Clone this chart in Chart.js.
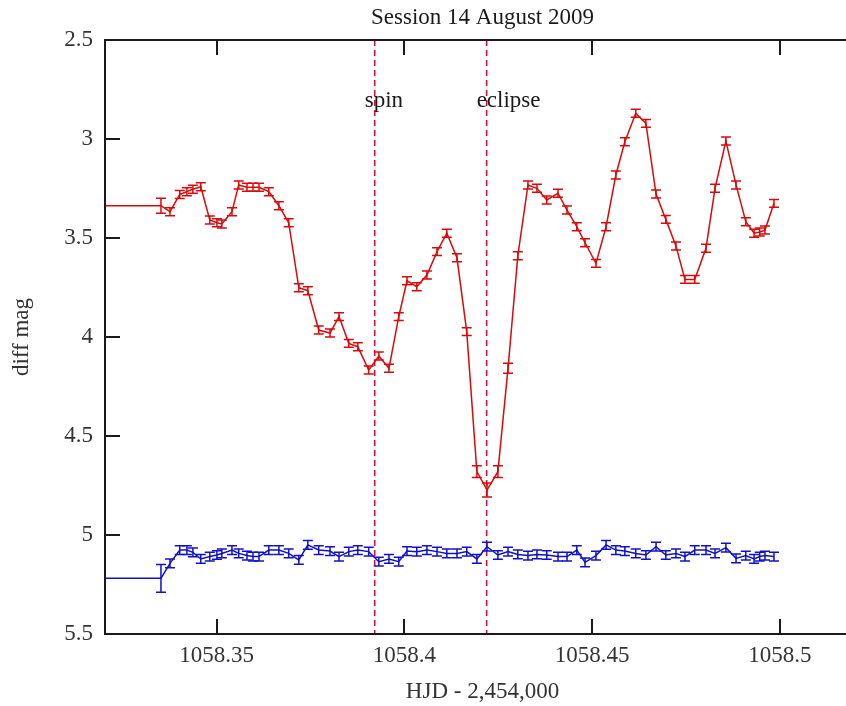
<!DOCTYPE html>
<html>
<head>
<meta charset="utf-8">
<script src="https://cdn.jsdelivr.net/npm/chart.js@4.4.1/dist/chart.umd.min.js"></script>
<style>
  html, body { margin: 0; padding: 0; background: #fff; overflow: hidden; }
  #wrap { width: 860px; height: 706px; }
</style>
</head>
<body>
<div id="wrap"><canvas id="lightCurve" width="860" height="706"></canvas></div>
<script>
// HJD - 2,454,000 for each frame (first entry is the lead-in before the plotted range)
const hjd = [1058.3000, 1058.3352, 1058.3376, 1058.3402, 1058.3421, 1058.3437, 1058.3458, 1058.3482,
  1058.3501, 1058.3514, 1058.3541, 1058.3559, 1058.3581, 1058.3597, 1058.3613, 1058.3639, 1058.3666,
  1058.3692, 1058.3719, 1058.3743, 1058.3772, 1058.3802, 1058.3826, 1058.3852, 1058.3876, 1058.3905,
  1058.3932, 1058.3959, 1058.3985, 1058.4007, 1058.4033, 1058.4060, 1058.4087, 1058.4113, 1058.4140,
  1058.4166, 1058.4193, 1058.4220, 1058.4249, 1058.4276, 1058.4302, 1058.4329, 1058.4353, 1058.4379,
  1058.4409, 1058.4433, 1058.4459, 1058.4481, 1058.4510, 1058.4537, 1058.4563, 1058.4587, 1058.4616,
  1058.4643, 1058.4670, 1058.4696, 1058.4723, 1058.4747, 1058.4773, 1058.4803, 1058.4827, 1058.4856,
  1058.4883, 1058.4909, 1058.4931, 1058.4946, 1058.4960, 1058.4984];

// variable minus comparison (red)
const magTarget = [3.337, 3.337, 3.367, 3.280, 3.266, 3.254, 3.241, 3.409, 3.423, 3.429, 3.367, 3.232,
  3.244, 3.244, 3.244, 3.266, 3.337, 3.423, 3.751, 3.766, 3.965, 3.980, 3.897, 4.032, 4.049, 4.167,
  4.096, 4.158, 3.897, 3.716, 3.746, 3.687, 3.569, 3.476, 3.600, 3.973, 4.680, 4.773, 4.680, 4.158,
  3.590, 3.232, 3.249, 3.308, 3.274, 3.359, 3.443, 3.524, 3.628, 3.443, 3.182, 3.014, 2.870, 2.921,
  3.278, 3.406, 3.540, 3.709, 3.709, 3.552, 3.249, 3.010, 3.232, 3.418, 3.476, 3.470, 3.460, 3.325];
const errTarget = [0, 0.038, 0.02, 0.02, 0.02, 0.02, 0.02, 0.02, 0.02, 0.02, 0.02, 0.02,
  0.02, 0.02, 0.02, 0.02, 0.02, 0.02, 0.02, 0.02, 0.02, 0.02, 0.02, 0.02, 0.02, 0.02,
  0.02, 0.02, 0.02, 0.02, 0.02, 0.02, 0.02, 0.02, 0.02, 0.02, 0.03, 0.035, 0.03, 0.025,
  0.02, 0.02, 0.02, 0.02, 0.02, 0.02, 0.02, 0.02, 0.02, 0.02, 0.02, 0.02, 0.02, 0.02,
  0.02, 0.02, 0.02, 0.02, 0.02, 0.02, 0.02, 0.02, 0.02, 0.02, 0.02, 0.02, 0.02, 0.02];

// check minus comparison (blue)
const magCheck = [5.219, 5.219, 5.143, 5.076, 5.076, 5.088, 5.121, 5.109, 5.101, 5.093, 5.076, 5.093,
  5.104, 5.109, 5.109, 5.076, 5.076, 5.093, 5.126, 5.050, 5.076, 5.081, 5.109, 5.084, 5.076,
  5.084, 5.135, 5.121, 5.135, 5.081, 5.084, 5.076, 5.084, 5.093, 5.093, 5.084, 5.121, 5.059,
  5.101, 5.084, 5.098, 5.104, 5.098, 5.101, 5.109, 5.109,
  5.076, 5.138, 5.104, 5.050, 5.076, 5.081, 5.093, 5.101, 5.059, 5.101, 5.093, 5.109, 5.076,
  5.076, 5.093, 5.064, 5.118, 5.104, 5.121, 5.109, 5.104, 5.109];
const errCheck = [0, 0.07, 0.022, 0.022, 0.022, 0.022, 0.022, 0.022, 0.022, 0.022, 0.022, 0.022,
  0.022, 0.022, 0.022, 0.022, 0.022, 0.022, 0.022, 0.022, 0.022, 0.022, 0.022, 0.022, 0.022,
  0.022, 0.022, 0.022, 0.022, 0.022, 0.022, 0.022, 0.022, 0.022, 0.022, 0.022, 0.022, 0.022,
  0.022, 0.022, 0.022, 0.022, 0.022, 0.022, 0.022, 0.022,
  0.022, 0.022, 0.022, 0.022, 0.022, 0.022, 0.022, 0.022, 0.022, 0.022, 0.022, 0.022, 0.022,
  0.022, 0.022, 0.022, 0.022, 0.022, 0.022, 0.022, 0.022, 0.022];

const markerHjd = [1058.3921, 1058.4219];
const markerLabels = ['spin', 'eclipse'];
const markerLabelMag = 2.81;

const xTicks = [1058.35, 1058.4, 1058.45, 1058.5];
const yTicks = [2.5, 3, 3.5, 4, 4.5, 5, 5.5];

const titleText = 'Session 14 August 2009';
const SERIF = '"Liberation Serif", "Times New Roman", serif';

function points(mags) {
  return hjd.map((x, i) => ({ x, y: mags[i] }));
}

// error bars, frame, inward tick marks, marker labels and title
const lightCurveDecor = {
  id: 'lightCurveDecor',
  afterDatasetsDraw(chart) {
    const { ctx, chartArea: area, scales: { x, y } } = chart;
    ctx.save();
    ctx.beginPath();
    ctx.rect(area.left, area.top, area.right - area.left, area.bottom - area.top);
    ctx.clip();
    chart.data.datasets.forEach(ds => {
      if (!ds.errors) return;
      ctx.strokeStyle = ds.borderColor;
      ctx.lineWidth = 1.5;
      ds.data.forEach((p, i) => {
        const e = ds.errors[i];
        if (!e) return;
        const px = x.getPixelForValue(p.x);
        const y1 = y.getPixelForValue(p.y - e);
        const y2 = y.getPixelForValue(p.y + e);
        ctx.beginPath();
        ctx.moveTo(px, y1); ctx.lineTo(px, y2);
        ctx.moveTo(px - 5, y1); ctx.lineTo(px + 5, y1);
        ctx.moveTo(px - 5, y2); ctx.lineTo(px + 5, y2);
        ctx.stroke();
      });
    });
    ctx.restore();
  },
  afterDraw(chart) {
    const { ctx, chartArea: area, scales: { x, y } } = chart;
    ctx.save();
    ctx.strokeStyle = '#1a1a1a';
    ctx.lineWidth = 2;
    ctx.strokeRect(area.left, area.top, area.right - area.left, area.bottom - area.top);
    ctx.beginPath();
    xTicks.forEach(v => {
      const px = Math.round(x.getPixelForValue(v));
      ctx.moveTo(px, area.bottom); ctx.lineTo(px, area.bottom - 15);
      ctx.moveTo(px, area.top); ctx.lineTo(px, area.top + 15);
    });
    yTicks.forEach(v => {
      const py = Math.round(y.getPixelForValue(v));
      ctx.moveTo(area.left, py); ctx.lineTo(area.left + 15, py);
    });
    ctx.stroke();

    ctx.fillStyle = '#1a1a1a';
    ctx.font = '23px ' + SERIF;
    ctx.textBaseline = 'middle';
    ctx.textAlign = 'left';
    markerHjd.forEach((m, i) => {
      ctx.fillText(markerLabels[i], x.getPixelForValue(m) - 10, y.getPixelForValue(markerLabelMag));
    });
    ctx.textAlign = 'center';
    ctx.fillText(titleText, (area.left + area.right) / 2, 18);
    ctx.restore();
  }
};

const markerSets = markerHjd.map(m => ({
  label: 'marker',
  data: [{ x: m, y: 2.5 }, { x: m, y: 5.5 }],
  borderColor: '#cc1040',
  borderWidth: 1.6,
  borderDash: [6, 4],
  pointRadius: 0,
}));

new Chart(document.getElementById('lightCurve'), {
  type: 'line',
  data: {
    datasets: [
      ...markerSets,
      {
        label: 'V - C',
        data: points(magTarget),
        errors: errTarget,
        borderColor: '#d80a0a',
        borderWidth: 1.5,
        pointRadius: 0,
        tension: 0,
      },
      {
        label: 'K - C',
        data: points(magCheck),
        errors: errCheck,
        borderColor: '#1010c8',
        borderWidth: 1.5,
        pointRadius: 0,
        tension: 0,
      },
    ],
  },
  options: {
    responsive: false,
    animation: false,
    layout: { padding: { top: 40, left: 0, right: 0, bottom: 0 } },
    plugins: {
      legend: { display: false },
      tooltip: { enabled: false },
      title: { display: false },
    },
    scales: {
      x: {
        type: 'linear',
        min: 1058.3203,
        max: 1058.5213,
        afterBuildTicks: s => { s.ticks = xTicks.map(value => ({ value })); },
        afterFit: s => { s.height = 72; },
        grid: { display: false, drawTicks: false },
        border: { display: false },
        ticks: {
          callback: v => String(v),
          font: { family: SERIF, size: 23 },
          color: '#333',
          padding: 8,
          maxRotation: 0,
          autoSkip: false,
        },
        title: {
          display: true,
          text: 'HJD - 2,454,000',
          font: { family: SERIF, size: 23 },
          color: '#333',
          padding: { top: 2, bottom: 0 },
        },
      },
      y: {
        type: 'linear',
        reverse: true,
        min: 2.5,
        max: 5.5,
        afterBuildTicks: s => { s.ticks = yTicks.map(value => ({ value })); },
        afterFit: s => { s.width = 105; },
        grid: { display: false, drawTicks: false },
        border: { display: false },
        ticks: {
          callback: v => String(v),
          font: { family: SERIF, size: 23 },
          color: '#333',
          padding: 12,
          autoSkip: false,
        },
        title: {
          display: true,
          text: 'diff mag',
          font: { family: SERIF, size: 23 },
          color: '#333',
          padding: { top: 8, bottom: 0 },
        },
      },
    },
  },
  plugins: [lightCurveDecor],
});
</script>
</body>
</html>
